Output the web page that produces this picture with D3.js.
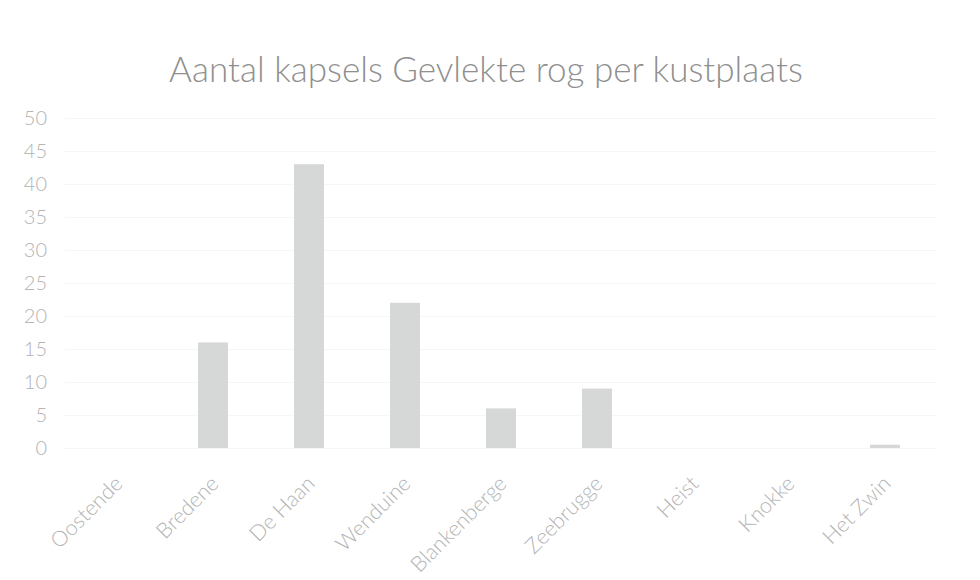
<!DOCTYPE html>
<html>
<head>
<meta charset="utf-8">
<script src="https://cdn.jsdelivr.net/npm/d3@7"></script>
<style>
  body { margin: 0; background: #fff; }
  text { font-family: Lato, "Open Sans", sans-serif; font-weight: 300; }
</style>
</head>
<body>
<div id="chart"></div>
<script>
const plaatsen = ["Oostende", "Bredene", "De Haan", "Wenduine", "Blankenberge", "Zeebrugge", "Heist", "Knokke", "Het Zwin"];
const kapsels = [0, 16, 43, 22, 6, 9, 0, 0, 0.5];
const yTicks = [0, 5, 10, 15, 20, 25, 30, 35, 40, 45, 50];
const titel = "Aantal kapsels Gevlekte rog per kustplaats";

const width = 980, height = 580;
const plotLeft = 69, plotRight = 933, plotTop = 118, plotBottom = 448;

const svg = d3.select("#chart")
  .append("svg")
  .attr("width", width)
  .attr("height", height);

const x = d3.scaleBand()
  .domain(plaatsen)
  .range([plotLeft, plotRight])
  .paddingInner(0.6875)
  .paddingOuter(0.34375);

const y = d3.scaleLinear().domain([0, 50]).range([plotBottom, plotTop]);

// gridlines (very faint in the original)
svg.append("g")
  .attr("transform", `translate(${plotLeft - 4},0)`)
  .call(d3.axisLeft(y).tickValues(yTicks).tickSize(-(plotRight - plotLeft + 8)).tickFormat(""))
  .call(g => g.select(".domain").remove())
  .call(g => g.selectAll("line").attr("stroke", "#f6f6f6"));

// y labels
svg.append("g")
  .attr("transform", `translate(47,0)`)
  .call(d3.axisLeft(y).tickValues(yTicks).tickSize(0).tickPadding(0))
  .call(g => g.select(".domain").remove())
  .call(g => g.selectAll("text")
    .attr("fill", "#b4b4b4")
    .style("font-size", "20px"));

// bars
svg.selectAll(".bar")
  .data(plaatsen)
  .enter()
  .append("rect")
  .attr("class", "bar")
  .attr("x", d => x(d))
  .attr("y", (d, i) => y(kapsels[i]))
  .attr("width", x.bandwidth())
  .attr("height", (d, i) => plotBottom - y(kapsels[i]))
  .attr("fill", "#d6d8d8");

// x labels, rotated
svg.append("g")
  .selectAll("text")
  .data(plaatsen)
  .enter()
  .append("text")
  .attr("transform", d => `translate(${x(d) + x.bandwidth() / 2 + 7},485) rotate(-45)`)
  .attr("text-anchor", "end")
  .attr("fill", "#b4b4b4")
  .style("font-size", "21.5px")
  .text(d => d);

// title
svg.append("text")
  .attr("x", 486)
  .attr("y", 82)
  .attr("text-anchor", "middle")
  .attr("fill", "#8f8f8f")
  .style("font-size", "35px")
  .text(titel);
</script>
</body>
</html>
